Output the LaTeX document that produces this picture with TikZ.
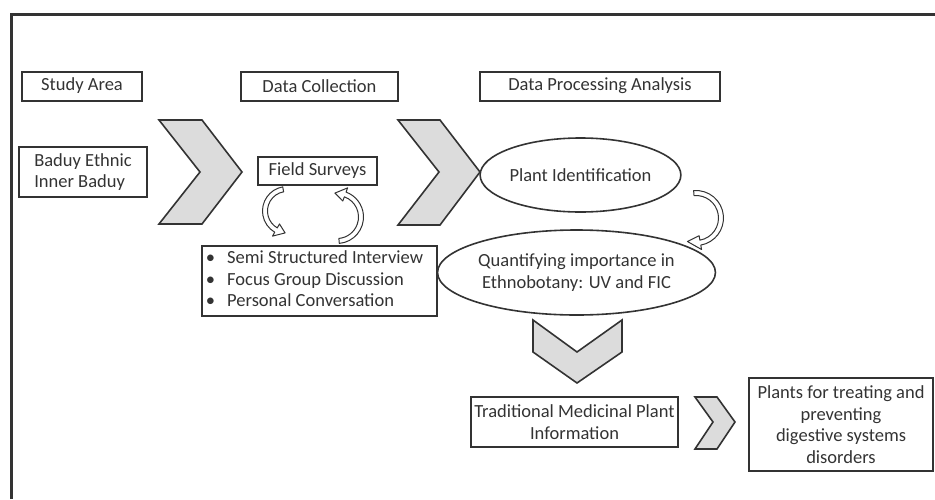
\documentclass[tikz,border=0pt]{standalone}
\usepackage{fontspec}
\setmainfont{Carlito}
\usetikzlibrary{calc,shapes.geometric}

\definecolor{inkgray}{HTML}{333333}
\definecolor{chevfill}{HTML}{DCDCDC}

\tikzset{
  box/.style={draw=inkgray, line width=2pt, text=inkgray, inner sep=0pt, align=center},
  oval/.style={ellipse, draw=inkgray, line width=1.6pt, text=inkgray, inner sep=0pt, align=center},
  chev/.style={draw=inkgray, fill=chevfill, line width=1.6pt, line join=miter},
  bendline/.style={draw=inkgray, fill=white, line width=1pt, line join=round},
}

% hollow bent arrow: center, radius, start angle, end angle, tip angle
\newcommand{\bendarrow}[5]{%
  \draw[bendline] ($(#1)+(#3:#2+2.5)$) arc[start angle=#3, end angle=#4, radius=#2+2.5]
    -- ($(#1)+(#4:#2+7)$) -- ($(#1)+(#5:#2)$) -- ($(#1)+(#4:#2-7)$)
    -- ($(#1)+(#4:#2-2.5)$) arc[start angle=#4, end angle=#3, radius=#2-2.5] -- cycle;}

\begin{document}
\begin{tikzpicture}[x=1pt,y=-1pt,font=\fontsize{18.5}{21.5}\selectfont]
  \useasboundingbox (0,0) rectangle (935,499);
  % outer frame
  \draw[inkgray, line width=3pt] (11,499) -- (11,14) -- (935,14);
  % column headers
  \node[box, minimum width=120, minimum height=29] (area) at (82,86) {Study Area};
  \node[box, minimum width=157, minimum height=29] (collect) at (319.5,86) {Data Collection};
  \node[box, minimum width=240, minimum height=29] (process) at (600,86) {Data Processing Analysis};
  % study area
  \node[box, minimum width=128, minimum height=50, align=left] (baduy) at (83,172) {Baduy Ethnic\\Inner Baduy};
  % data collection
  \node[box, minimum width=119, minimum height=28] (field) at (317.5,171) {Field Surveys};
  \node[box, minimum width=235, minimum height=70, align=left] (methods) at (319.5,281)
    {\begin{tabular}{@{}l@{\hspace{12pt}}l@{\hspace{10pt}}}
      \textbullet & Semi Structured Interview\\
      \textbullet & Focus Group Discussion\\
      \textbullet & Personal Conversation
    \end{tabular}};
  % data processing
  \node[oval, minimum width=185, minimum height=74] (ident) at (580.5,175) {Plant Identification};
  \node[oval, minimum width=215, minimum height=85] (quant) at (576.5,272.5) {Quantifying importance in\\Ethnobotany: UV and FIC};
  \node[box, minimum width=207, minimum height=50] (info) at (574.5,422) {Traditional Medicinal Plant\\Information};
  \node[box, minimum width=184, minimum height=93] (result) at (841,424.5) {Plants for treating and\\preventing\\digestive systems\\disorders};
  % chevrons
  \draw[chev] (159,120) -- (202,120) -- (242,172) -- (202,224) -- (159,224) -- (200,172) -- cycle;
  \draw[chev] (398,120) -- (440,120) -- (480,172) -- (440,225) -- (398,225) -- (439,172) -- cycle;
  \draw[chev] (533,320) -- (577,352) -- (622,320) -- (622,352) -- (577,383) -- (533,352) -- cycle;
  \draw[chev] (695,397) -- (717,397) -- (735,422) -- (717,449) -- (695,449) -- (713,422) -- cycle;
  % bent arrows
  \coordinate (loopL) at (287,211);
  \coordinate (loopR) at (337,217);
  \coordinate (loopQ) at (696,218);
  \bendarrow{loopL}{22}{-100}{-240}{-265}
  \bendarrow{loopR}{24}{85}{-70}{-95}
  \bendarrow{loopQ}{25}{-95}{80}{110}
\end{tikzpicture}
\end{document}
